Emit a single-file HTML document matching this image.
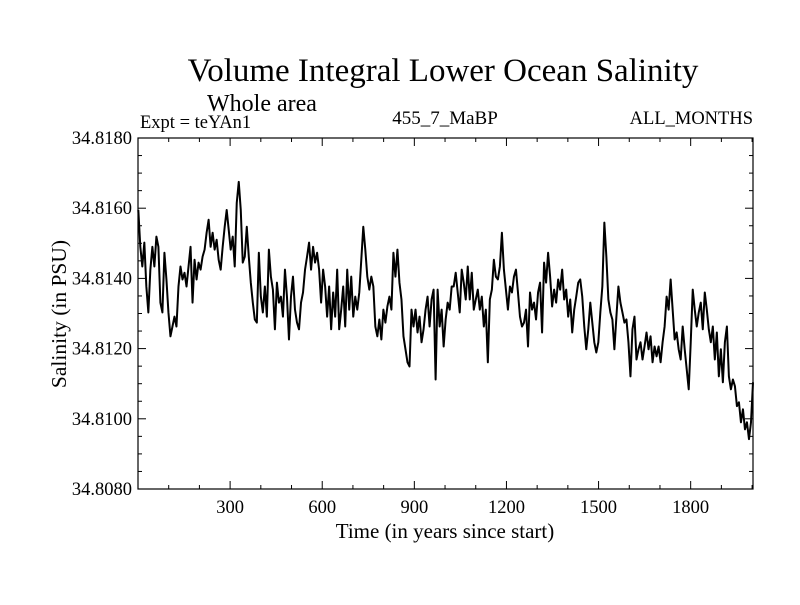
<!DOCTYPE html>
<html><head><meta charset="utf-8"><style>
html,body{margin:0;padding:0;background:#fff;}
svg text{font-family:"Liberation Serif",serif;fill:#000;}
</style></head><body>
<svg id="chart" width="800" height="600" viewBox="0 0 800 600" xmlns="http://www.w3.org/2000/svg">
<rect width="800" height="600" fill="#fff"/>
<text x="443" y="81" font-size="33" text-anchor="middle">Volume Integral Lower Ocean Salinity</text>
<text x="207" y="111" font-size="24">Whole area</text>
<text x="140" y="128" font-size="18.5">Expt = teYAn1</text>
<text x="445" y="124" font-size="19" text-anchor="middle">455_7_MaBP</text>
<text x="753" y="124" font-size="18.5" text-anchor="end">ALL_MONTHS</text>
<text x="0" y="0" font-size="21.5" text-anchor="middle" transform="translate(66,314) rotate(-90)">Salinity (in PSU)</text>
<text x="445" y="538" font-size="21" text-anchor="middle">Time (in years since start)</text>
<g id="axes"></g>
<path id="series" fill="none" stroke="#000" stroke-width="2" stroke-linejoin="round"/>
<rect x="138" y="138" width="615" height="351" fill="none" stroke="#000" stroke-width="1.2"/>
</svg>
<script>
const xDomain = [0, 2003];
const yDomain = [34.808, 34.818];
const xTickLabels = [300, 600, 900, 1200, 1500, 1800];
const yTickLabels = ["34.8080","34.8100","34.8120","34.8140","34.8160","34.8180"];
const salinity = [34.81595,34.81490,34.81434,34.81502,34.81377,34.81303,34.81425,34.81490,34.81434,34.81519,34.81490,34.81331,34.81303,34.81473,34.81397,34.81303,34.81235,34.81263,34.81291,34.81263,34.81377,34.81434,34.81397,34.81416,34.81377,34.81434,34.81490,34.81331,34.81453,34.81397,34.81445,34.81425,34.81462,34.81482,34.81530,34.81567,34.81490,34.81530,34.81482,34.81510,34.81453,34.81425,34.81490,34.81547,34.81595,34.81539,34.81482,34.81519,34.81434,34.81615,34.81675,34.81595,34.81445,34.81462,34.81547,34.81462,34.81388,34.81331,34.81283,34.81274,34.81473,34.81348,34.81303,34.81377,34.81291,34.81482,34.81405,34.81368,34.81255,34.81388,34.81331,34.81348,34.81291,34.81425,34.81348,34.81226,34.81348,34.81405,34.81311,34.81274,34.81255,34.81331,34.81360,34.81425,34.81462,34.81502,34.81425,34.81490,34.81445,34.81473,34.81425,34.81331,34.81425,34.81377,34.81291,34.81377,34.81255,34.81360,34.81291,34.81425,34.81255,
34.81311,34.81377,34.81263,34.81425,34.81311,34.81405,34.81291,34.81348,34.81311,34.81360,34.81453,34.81547,34.81482,34.81405,34.81368,34.81405,34.81377,34.81263,34.81235,34.81283,34.81226,34.81311,34.81274,34.81320,34.81348,34.81311,34.81473,34.81405,34.81482,34.81388,34.81340,34.81235,34.81198,34.81161,34.81149,34.81311,34.81263,34.81311,34.81246,34.81291,34.81218,34.81255,34.81311,34.81348,34.81263,34.81340,34.81368,34.81112,34.81368,34.81263,34.81311,34.81206,34.81283,34.81331,34.81311,34.81377,34.81377,34.81416,34.81360,34.81303,34.81425,34.81388,34.81340,34.81434,34.81340,34.81416,34.81311,34.81340,34.81368,34.81311,34.81348,34.81263,34.81311,34.81161,34.81340,34.81368,34.81453,34.81405,34.81397,34.81434,34.81530,34.81425,34.81368,34.81311,34.81377,34.81360,34.81405,34.81425,34.81360,34.81291,34.81263,34.81274,34.81311,34.81206,34.81360,34.81311,34.81331,34.81283,34.81360,34.81388,34.81246,34.81445,34.81388,34.81473,
34.81405,34.81320,34.81368,34.81331,34.81397,34.81368,34.81425,34.81340,34.81368,34.81291,34.81340,34.81246,34.81311,34.81348,34.81388,34.81397,34.81348,34.81263,34.81198,34.81255,34.81331,34.81274,34.81218,34.81189,34.81218,34.81303,34.81377,34.81559,34.81462,34.81340,34.81303,34.81283,34.81198,34.81291,34.81377,34.81331,34.81303,34.81274,34.81283,34.81218,34.81121,34.81255,34.81291,34.81169,34.81198,34.81218,34.81169,34.81206,34.81246,34.81198,34.81235,34.81161,34.81206,34.81178,34.81206,34.81161,34.81218,34.81263,34.81348,34.81311,34.81397,34.81311,34.81226,34.81246,34.81198,34.81169,34.81263,34.81198,34.81141,34.81084,34.81218,34.81368,34.81311,34.81263,34.81303,34.81331,34.81255,34.81360,34.81311,34.81255,34.81218,34.81263,34.81169,34.81246,34.81121,34.81198,34.81104,34.81218,34.81263,34.81121,34.81084,34.81112,34.81093,34.81036,34.81047,34.80990,34.81027,34.80970,34.80990,34.80942,34.80990,34.81104];
const startYear = 1;
const endYear = 2003;

const L=138,R=753,T=138,B=489;
const sx=v=>L+(v-xDomain[0])/(xDomain[1]-xDomain[0])*(R-L);
const sy=v=>B-(v-yDomain[0])/(yDomain[1]-yDomain[0])*(B-T);
const NS="http://www.w3.org/2000/svg";
const axes=document.getElementById('axes');
function line(x1,y1,x2,y2){const l=document.createElementNS(NS,'line');l.setAttribute('x1',x1);l.setAttribute('y1',y1);l.setAttribute('x2',x2);l.setAttribute('y2',y2);l.setAttribute('stroke','#000');l.setAttribute('stroke-width','1');axes.appendChild(l);return l;}
function txt(x,y,s,anchor,size){const t=document.createElementNS(NS,'text');t.setAttribute('x',x);t.setAttribute('y',y);t.setAttribute('text-anchor',anchor);t.setAttribute('font-size',size);t.textContent=s;axes.appendChild(t);return t;}
for(let v=100;v<xDomain[1];v+=100){const x=sx(v);const major=v%300===0;
 const a=line(x,B,x,B-(major?8:4));
 const b=line(x,T,x,T+(major?8:4));}
xTickLabels.forEach(v=>{const t=txt(sx(v),513,String(v),'middle',18.5);
 
 });
for(let i=0;i<=20;i++){const v=yDomain[0]+i*0.0005;const y=sy(v);const major=i%4===0;
 const a=line(L,y,L+(major?8:4),y);
 const b=line(R,y,R-(major?8:4),y);}
yTickLabels.forEach(s=>{const t=txt(132,sy(parseFloat(s))+6,s,'end',18.5);
 
 });
const n=salinity.length;
let d='';
salinity.forEach((v,i)=>{const yr=startYear+i*(endYear-startYear)/(n-1);d+=(i?'L':'M')+sx(yr).toFixed(2)+','+sy(v).toFixed(2);});
document.getElementById('series').setAttribute('d',d);
</script>
</body></html>
